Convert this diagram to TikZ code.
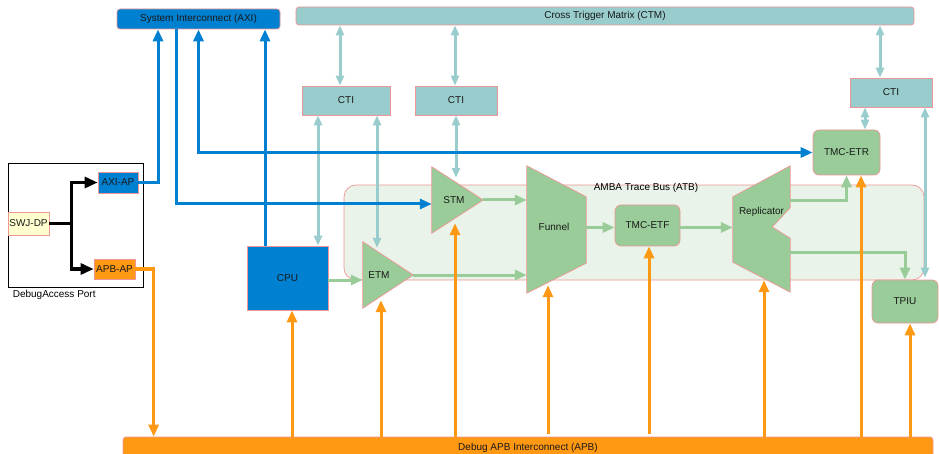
\documentclass[tikz,border=0pt]{standalone}
\usepackage{fontspec}
\setmainfont{Liberation Sans}
\usepackage{xcolor}
\usepackage{tikz}
\usetikzlibrary{arrows.meta, positioning}

\definecolor{axiblue}{RGB}{0,128,208}
\definecolor{apborange}{RGB}{255,152,18}
\definecolor{ctiteal}{RGB}{153,204,204}
\definecolor{atbgreen}{RGB}{153,204,153}
\definecolor{edgepink}{RGB}{238,150,150}
\definecolor{atbfill}{RGB}{233,243,233}
\definecolor{dpyellow}{RGB}{255,255,208}

\begin{document}
\begin{tikzpicture}[
        x=1pt, y=-1pt,
        font=\fontsize{10}{12}\selectfont,
        % Style des boîtes
        box/.style={
            rectangle,
            draw=edgepink,
            line width=0.7pt,
            inner sep=0pt,
            text=black!90
        },
        busbox/.style={box, rounded corners=3pt},
        ctibox/.style={box, fill=ctiteal, minimum width=82pt, minimum height=29pt},
        tracebox/.style={box, fill=atbgreen, rounded corners=6pt},
        shapebox/.style={inner sep=0pt},
        shapefill/.style={fill=atbgreen, draw=edgepink, line width=0.7pt},
        % Style des flèches
        axiline/.style={-{Triangle[length=12pt,width=10pt]}, line width=3pt, color=axiblue},
        axidouble/.style={{Triangle[length=12pt,width=10pt]}-{Triangle[length=12pt,width=10pt]}, line width=3pt, color=axiblue},
        apbline/.style={-{Triangle[length=12pt,width=10pt]}, line width=3pt, color=apborange},
        ctiline/.style={{Triangle[length=10pt,width=8pt]}-{Triangle[length=10pt,width=8pt]}, line width=3pt, color=ctiteal},
        atbline/.style={-{Triangle[length=12pt,width=10pt]}, line width=3pt, color=atbgreen},
        dpline/.style={-{Triangle[length=13pt,width=11pt]}, line width=3pt, color=black}
    ]

    \useasboundingbox (0,0) rectangle (939,454);

    % --- AMBA TRACE BUS ---
    \node [busbox, rounded corners=12pt, fill=atbfill, minimum width=580pt, minimum height=95pt] (atb) at (634,232.5) {};
    \node [inner sep=0pt] (atblabel) at ([xshift=12pt,yshift=-3pt]atb.north) {AMBA Trace Bus (ATB)};

    % --- INTERCONNECTS ---
    \node [busbox, fill=axiblue, minimum width=163pt, minimum height=20pt] (axi) at (198.5,19) {System Interconnect (AXI)};
    \node [busbox, fill=ctiteal, minimum width=618pt, minimum height=18pt] (ctm) at (605,16) {Cross Trigger Matrix (CTM)};
    \node [busbox, fill=apborange, minimum width=810pt, minimum height=22pt] (apb) at (528,448) {Debug APB Interconnect (APB)};

    % --- CTI ---
    \node [ctibox, minimum width=88pt] (cti1) at (346,100.5) {CTI};
    \node [ctibox] (cti2) at (456,100.5) {CTI};
    \node [ctibox] (cti3) at (891,92.5) {CTI};

    % --- DEBUG ACCESS PORT ---
    \node [draw=black, line width=0.8pt, minimum width=135pt, minimum height=124pt] (dap) at (75.5,225) {};
    \node [below right=3pt and 5pt of dap.south west, inner sep=0pt] (daplabel) {DebugAccess Port};
    \node [box, fill=dpyellow, minimum width=41pt, minimum height=23pt] (swj) at (28.5,223.5) {SWJ-DP};
    \node [box, fill=axiblue, minimum width=40pt, minimum height=21pt] (axiap) at (118,182.5) {AXI-AP};
    \node [box, fill=apborange, minimum width=41pt, minimum height=20pt] (apbap) at (114.5,269) {APB-AP};

    % --- CPU ---
    \node [box, fill=axiblue, minimum width=81pt, minimum height=64pt] (cpu) at (287.5,278) {CPU};

    % --- SOURCES ---
    \node [shapebox, minimum width=50pt, minimum height=66pt] (etm) at (388,275) {};
    \filldraw [shapefill] (etm.north west) -- (etm.east) -- (etm.south west) -- cycle;
    \node [text=black!90] at ([xshift=-9pt]etm.center) {ETM};

    \node [shapebox, minimum width=51pt, minimum height=66pt] (stm) at (457.5,200) {};
    \filldraw [shapefill] (stm.north west) -- (stm.east) -- (stm.south west) -- cycle;
    \node [text=black!90] at ([xshift=-3.5pt]stm.center) {STM};

    % --- LIENS ---
    \node [shapebox, minimum width=59pt, minimum height=127pt] (funnel) at (556.5,229.5) {};
    \filldraw [shapefill] (funnel.north west) -- ([yshift=-31pt]funnel.north east)
        -- ([yshift=30pt]funnel.south east) -- (funnel.south west) -- cycle;
    \node [text=black!90] at ([xshift=-2.5pt,yshift=2.5pt]funnel.center) {Funnel};

    \node [tracebox, minimum width=65pt, minimum height=41pt] (etf) at (647.5,225.5) {TMC-ETF};

    \node [shapebox, minimum width=57pt, minimum height=126pt] (repl) at (761.5,229) {};
    \filldraw [shapefill] ([yshift=-31pt]repl.north west) -- (repl.north east)
        -- ([yshift=-42pt]repl.north east) -- ([xshift=-18pt,yshift=2pt]repl.east)
        -- ([yshift=54pt]repl.south east) -- (repl.south east)
        -- ([yshift=30pt]repl.south west) -- cycle;
    \node [text=black!90] at ([yshift=17pt]repl.center) {Replicator};

    % --- PUITS ---
    \node [tracebox, minimum width=67pt, minimum height=45pt] (etr) at (846.5,152.5) {TMC-ETR};
    \node [tracebox, minimum width=66pt, minimum height=43pt] (tpiu) at (905,301.5) {TPIU};

    % --- FLÈCHES CTI ---
    \draw [ctiline] ([xshift=-6pt]cti1.north |- ctm.south) -- ([xshift=-6pt]cti1.north);
    \draw [ctiline] ([xshift=-1pt]cti2.north |- ctm.south) -- ([xshift=-1pt]cti2.north);
    \draw [ctiline] ([xshift=-11pt]cti3.north |- ctm.south) -- ([xshift=-11pt]cti3.north);
    \draw [ctiline] ([xshift=-28pt]cti1.south) -- ([xshift=-28pt]cti1.south |- cpu.north);
    \draw [ctiline] ([xshift=31pt]cti1.south) -- ([xshift=31pt,yshift=-6pt]cti1.south |- etm.north);
    \draw [ctiline] (cti2.south) -- ([yshift=-11pt]cti2.south |- stm.north);
    \draw [ctiline] ([xshift=-26pt]cti3.south) -- ([xshift=-26pt]cti3.south |- etr.north);
    \draw [ctiline] ([xshift=34pt]cti3.south) -- ([xshift=34pt,yshift=2pt]cti3.south |- tpiu.north);

    % --- FLÈCHES ATB ---
    \draw [atbline] ([yshift=-2pt]cpu.east) -- ([yshift=-2pt]cpu.east -| etm.west);
    \draw [atbline] (etm.east) -- (etm.east -| funnel.west);
    \draw [atbline] (stm.east) -- (stm.east -| funnel.west);
    \draw [atbline] ([yshift=-2pt]etf.west -| funnel.east) -- ([yshift=-2pt]etf.west);
    \draw [atbline] ([yshift=-2pt]etf.east) -- ([yshift=-2pt]etf.east -| repl.west);
    \draw [atbline] ([yshift=28pt]repl.east) -| (etr.south);
    \draw [atbline] ([yshift=-24pt]repl.east) -| (tpiu.north);

    % --- FLÈCHES AXI ---
    \draw [axiline] (axiap.east) -| ([xshift=-40.5pt]axi.south);
    \draw [axiline] ([xshift=-22.5pt]axi.south) |- ([yshift=-4pt]stm.west);
    \draw [axidouble] (axi.south) |- (etr.west);
    \draw [axiline] ([xshift=-22.5pt]cpu.north) -- ([xshift=-22.5pt]cpu.north |- axi.south);

    % --- FLÈCHES APB ---
    \draw [apbline] (apbap.east) -| ([xshift=31pt]apb.north west);
    \draw [apbline] ([xshift=4.5pt]cpu.south |- apb.north) -- ([xshift=4.5pt]cpu.south);
    \draw [apbline] ([xshift=-7pt]etm.south |- apb.north) -- ([xshift=-7pt,yshift=8pt]etm.south);
    \draw [apbline] ([xshift=-2.5pt]stm.south |- apb.north) -- ([xshift=-2.5pt,yshift=10pt]stm.south);
    \draw [apbline] ([xshift=-8.5pt,yshift=3pt]funnel.south |- apb.north) -- ([xshift=-8.5pt,yshift=8pt]funnel.south);
    \draw [apbline] ([xshift=1.5pt,yshift=3pt]etf.south |- apb.north) -- ([xshift=1.5pt]etf.south);
    \draw [apbline] ([xshift=2.5pt]repl.south |- apb.north) -- ([xshift=2.5pt,yshift=12pt]repl.south);
    \draw [apbline] ([xshift=14.5pt]etr.south |- apb.north) -- ([xshift=14.5pt]etr.south);
    \draw [apbline] ([xshift=5pt]tpiu.south |- apb.north) -- ([xshift=5pt]tpiu.south);

    % --- FLÈCHES DAP ---
    \draw [dpline] (swj.east) -| ([xshift=-26pt]axiap.west) -- (axiap.west);
    \draw [dpline] (swj.east) -| ([xshift=-22pt]apbap.west) -- (apbap.west);

\end{tikzpicture}
\end{document}
